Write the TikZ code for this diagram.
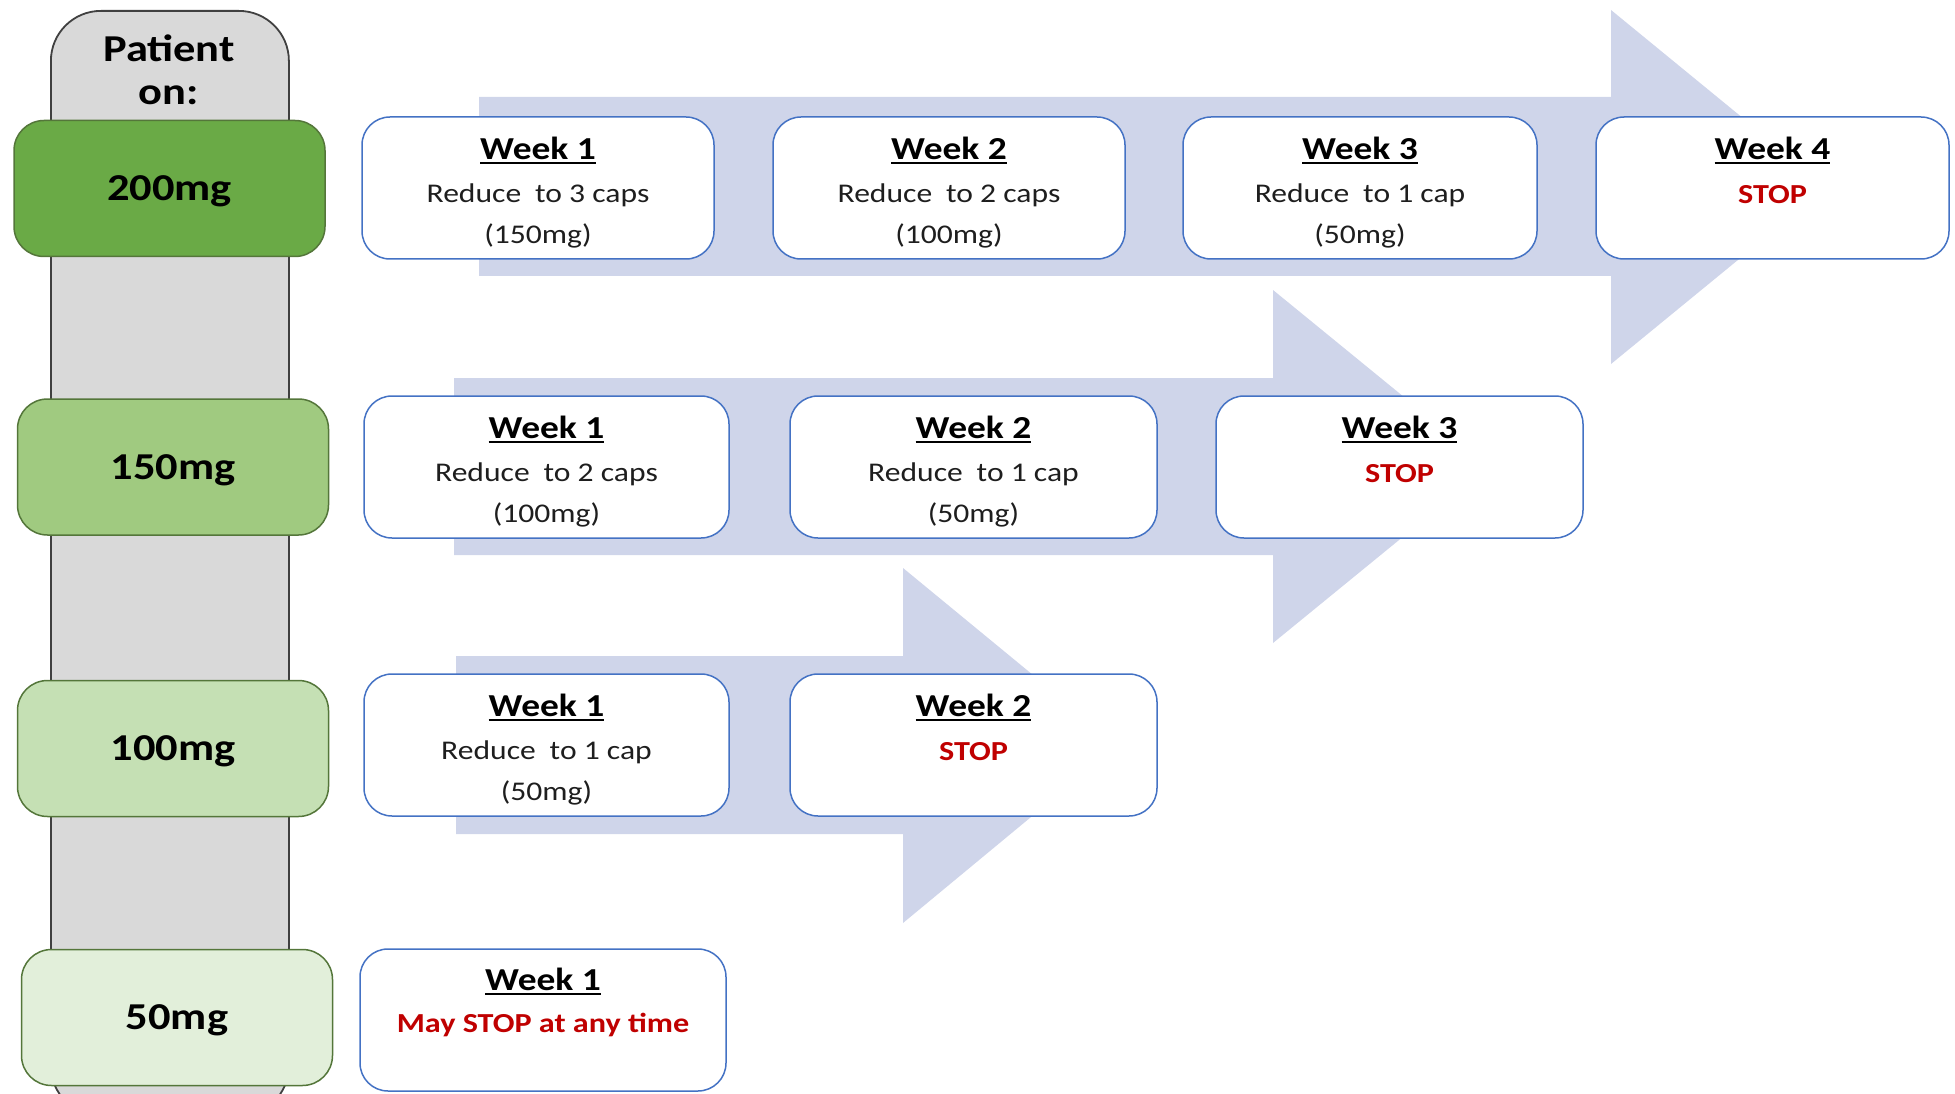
\documentclass[tikz,border=0pt]{standalone}
\usepackage{fontspec}
\setmainfont{Carlito}[FakeStretch=1.17]

\definecolor{barfill}{RGB}{217,217,217}
\definecolor{barline}{RGB}{64,64,64}
\definecolor{flow}{RGB}{207,213,234}
\definecolor{boxline}{RGB}{68,114,196}
\definecolor{doseline}{RGB}{84,118,58}
\definecolor{doseA}{RGB}{106,170,70}
\definecolor{doseB}{RGB}{160,202,128}
\definecolor{doseC}{RGB}{197,224,180}
\definecolor{doseD}{RGB}{226,239,218}
\definecolor{stopred}{RGB}{192,0,0}
\definecolor{bodytext}{RGB}{30,30,30}

% underlined week heading with a heavier rule
\newcommand\wkul[1]{\setbox0\hbox{#1}\rlap{\rule[-4.5pt]{\wd0}{2pt}}\box0}

\begin{document}
\begin{tikzpicture}[x=1pt,y=-1pt,
  bar/.style={draw=barline, line width=1.8pt, fill=barfill, rounded corners=50pt, inner sep=0pt},
  dose/.style={draw=doseline, line width=1.5pt, rounded corners=30pt,
    minimum width=311pt, minimum height=136pt, inner sep=0pt},
  wkbox/.style={draw=boxline, line width=1.5pt, fill=white, rounded corners=28pt,
    minimum height=142pt, inner sep=0pt},
  dosetxt/.style={font=\fontsize{38}{42}\selectfont\bfseries, anchor=base, inner sep=0pt},
  wktitle/.style={font=\fontsize{32}{36}\selectfont\bfseries, anchor=base, inner sep=0pt},
  wktext/.style={font=\fontsize{27}{30}\selectfont, text=bodytext, anchor=base, inner sep=0pt},
  stoptxt/.style={font=\fontsize{27.5}{30}\selectfont\bfseries, text=stopred, anchor=base, inner sep=0pt},
  flowarrow/.style={fill=flow}
]
\useasboundingbox (0,0) rectangle (1955,1094);

% vertical "Patient on:" column
\node[bar, anchor=north west, minimum width=238pt, minimum height=1105pt] (bar) at (50,10) {};
\node[dosetxt] (pt1) at (169,62) {Patient};
\node[dosetxt] (pt2) at (169,105) {on:};

% block arrows behind each row
\fill[flowarrow] (479,97) -- (1611,97) -- (1611,10) -- (1827,187) -- (1611,364) -- (1611,276) -- (479,276) -- cycle;
\fill[flowarrow] (454,378) -- (1273,378) -- (1273,290) -- (1489,466.5) -- (1273,643) -- (1273,555) -- (454,555) -- cycle;
\fill[flowarrow] (456,656) -- (903,656) -- (903,568) -- (1118,745) -- (903,923) -- (903,834) -- (456,834) -- cycle;

% starting doses
\node[dose, fill=doseA] (d200) at (169.5,188.5) {};
\node[dose, fill=doseB] (d150) at (173,467) {};
\node[dose, fill=doseC] (d100) at (173,748.5) {};
\node[dose, fill=doseD] (d50)  at (177,1017.5) {};
\node[dosetxt] (t200) at ([yshift=-12pt]d200.center) {200mg};
\node[dosetxt] (t150) at ([yshift=-12pt]d150.center) {150mg};
\node[dosetxt] (t100) at ([yshift=-12pt]d100.center) {100mg};
\node[dosetxt] (t50)  at ([yshift=-12pt]d50.center)  {50mg};

% 200mg schedule
\node[wkbox, minimum width=352pt] (a1) at (538,188) {};
\node[wkbox, minimum width=352pt] (a2) at (949,188) {};
\node[wkbox, minimum width=354pt] (a3) at (1360,188) {};
\node[wkbox, minimum width=353pt] (a4) at (1772.5,188) {};
\node[wktitle] (a1h) at ([yshift=-43pt]a1.north) {\wkul{Week 1}};
\node[wktext]  (a1l) at ([yshift=-86pt]a1.north) {Reduce\hspace{0.25em} to 3 caps};
\node[wktext]  (a1m) at ([yshift=-127pt]a1.north) {(150mg)};
\node[wktitle] (a2h) at ([yshift=-43pt]a2.north) {\wkul{Week 2}};
\node[wktext]  (a2l) at ([yshift=-86pt]a2.north) {Reduce\hspace{0.25em} to 2 caps};
\node[wktext]  (a2m) at ([yshift=-127pt]a2.north) {(100mg)};
\node[wktitle] (a3h) at ([yshift=-43pt]a3.north) {\wkul{Week 3}};
\node[wktext]  (a3l) at ([yshift=-86pt]a3.north) {Reduce\hspace{0.25em} to 1 cap};
\node[wktext]  (a3m) at ([yshift=-127pt]a3.north) {(50mg)};
\node[wktitle] (a4h) at ([yshift=-43pt]a4.north) {\wkul{Week 4}};
\node[stoptxt] (a4s) at ([yshift=-87pt]a4.north) {STOP};

% 150mg schedule
\node[wkbox, minimum width=365pt] (b1) at (546.5,467) {};
\node[wkbox, minimum width=367pt] (b2) at (973.5,467) {};
\node[wkbox, minimum width=367pt] (b3) at (1399.5,467) {};
\node[wktitle] (b1h) at ([yshift=-43pt]b1.north) {\wkul{Week 1}};
\node[wktext]  (b1l) at ([yshift=-86pt]b1.north) {Reduce\hspace{0.25em} to 2 caps};
\node[wktext]  (b1m) at ([yshift=-127pt]b1.north) {(100mg)};
\node[wktitle] (b2h) at ([yshift=-43pt]b2.north) {\wkul{Week 2}};
\node[wktext]  (b2l) at ([yshift=-86pt]b2.north) {Reduce\hspace{0.25em} to 1 cap};
\node[wktext]  (b2m) at ([yshift=-127pt]b2.north) {(50mg)};
\node[wktitle] (b3h) at ([yshift=-43pt]b3.north) {\wkul{Week 3}};
\node[stoptxt] (b3s) at ([yshift=-87pt]b3.north) {STOP};

% 100mg schedule
\node[wkbox, minimum width=365pt] (c1) at (546.5,745) {};
\node[wkbox, minimum width=367pt] (c2) at (973.5,745) {};
\node[wktitle] (c1h) at ([yshift=-43pt]c1.north) {\wkul{Week 1}};
\node[wktext]  (c1l) at ([yshift=-86pt]c1.north) {Reduce\hspace{0.25em} to 1 cap};
\node[wktext]  (c1m) at ([yshift=-127pt]c1.north) {(50mg)};
\node[wktitle] (c2h) at ([yshift=-43pt]c2.north) {\wkul{Week 2}};
\node[stoptxt] (c2s) at ([yshift=-87pt]c2.north) {STOP};

% 50mg schedule
\node[wkbox, minimum width=366pt] (e1) at (543,1020) {};
\node[wktitle] (e1h) at ([yshift=-42pt]e1.north) {\wkul{Week 1}};
\node[stoptxt] (e1s) at ([yshift=-84pt]e1.north) {May STOP at any time};
\end{tikzpicture}
\end{document}
